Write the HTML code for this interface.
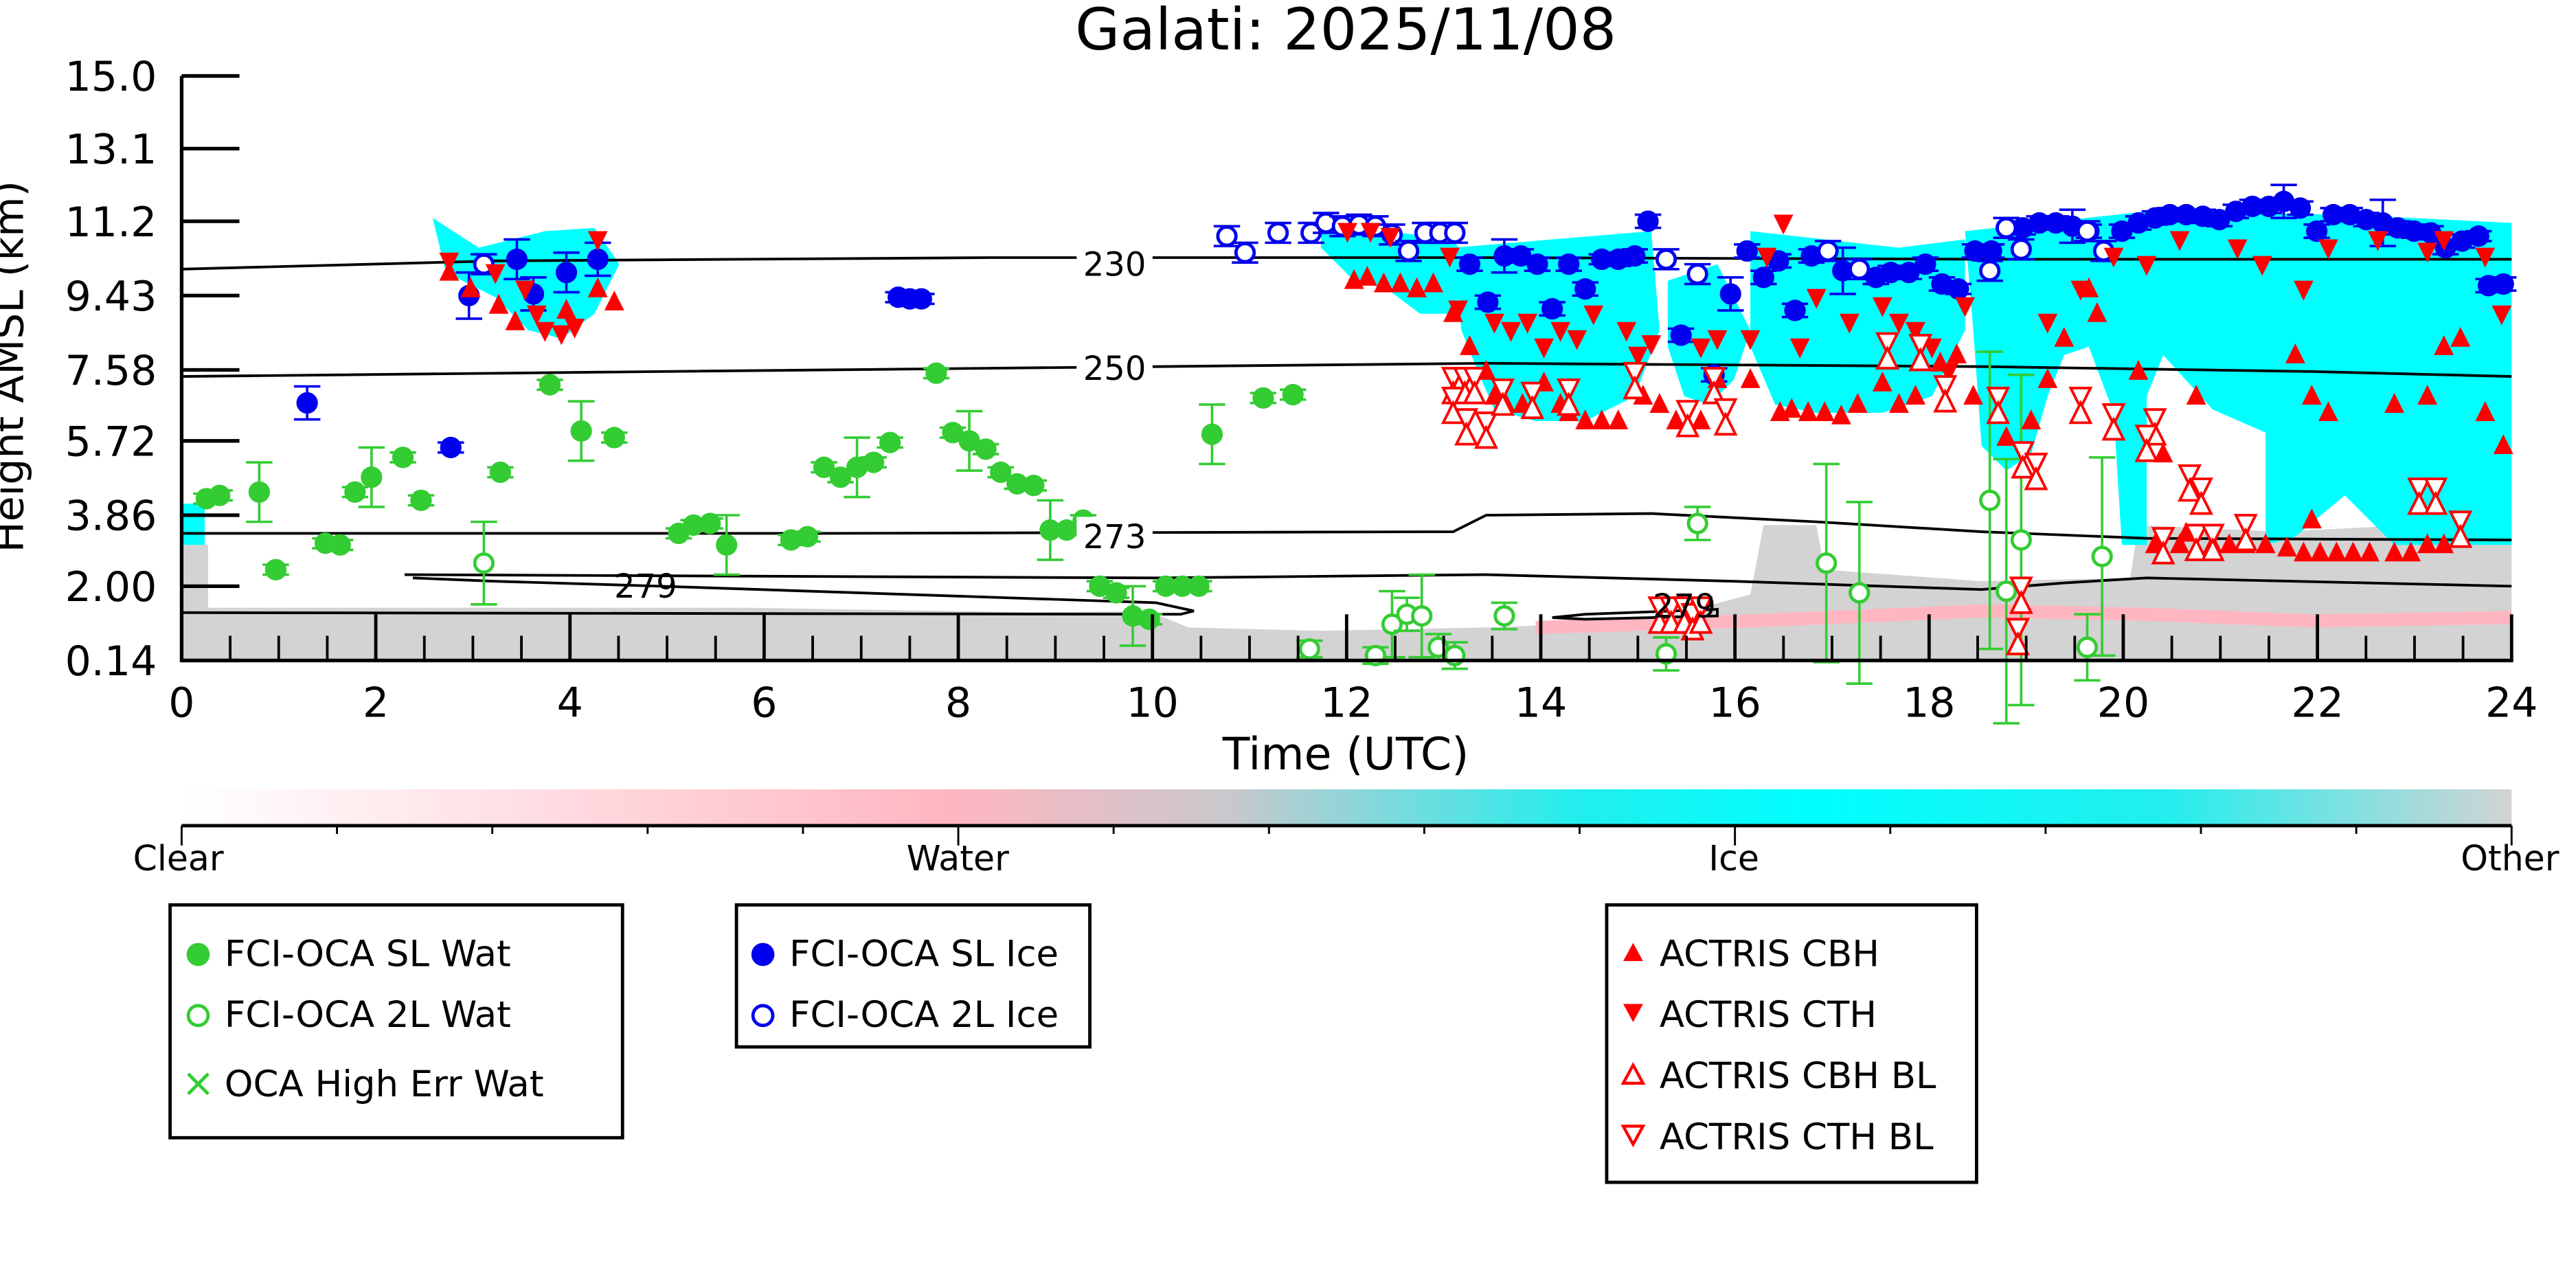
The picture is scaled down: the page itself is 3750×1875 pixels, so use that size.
<!DOCTYPE html>
<html><head><meta charset="utf-8"><style>
html,body{margin:0;padding:0;background:#fff;}
svg{display:block;font-family:"DejaVu Sans","Liberation Sans",sans-serif;}
</style></head><body>
<svg id="s" width="3750" height="1875" viewBox="0 0 1560 780" xmlns="http://www.w3.org/2000/svg">
<defs>
<linearGradient id="cb" x1="0" x2="1" y1="0" y2="0">
<stop offset="0" stop-color="#ffffff"/>
<stop offset="0.33" stop-color="#ffb6c1"/>
<stop offset="0.45" stop-color="#c8c8cc"/>
<stop offset="0.6" stop-color="#22eeee"/>
<stop offset="0.7" stop-color="#00ffff"/>
<stop offset="0.85" stop-color="#22eeee"/>
<stop offset="1" stop-color="#d3d3d3"/>
</linearGradient>
</defs>
<text x="815" y="30" font-size="35" text-anchor="middle">Galati: 2025/11/08</text>
<g id="bg">
<polygon fill="#d3d3d3" points="110,330 126,330 126,368 300,368 450,368 700,372 720,380 800,382 900,380 1000,376 1060,360 1068,318 1100,318 1105,345 1200,352 1290,350 1295,318 1380,322 1521,315 1521,400 110,400"/>
<polygon fill="#d3d3d3" points="250,375 700,370 700,385 250,386"/>
<polygon fill="#ffb6c1" points="930,376 1060,372 1200,366 1300,368 1400,372 1521,370 1521,378 1400,380 1300,376 1200,374 1060,380 930,384"/>
<polygon fill="#00ffff" points="262,132 290,150 330,140 360,138 375,160 360,190 340,205 320,200 300,180 270,165"/>
<polygon fill="#00ffff" points="110,305 124,305 124,330 110,330"/>
<polygon fill="#00ffff" points="800,135 880,145 890,160 880,190 860,190 840,175 820,170 800,150"/>
<polygon fill="#00ffff" points="880,150 1000,140 1005,200 990,240 960,255 930,255 905,248 895,225 885,200"/>
<polygon fill="#00ffff" points="1010,170 1040,160 1060,200 1050,230 1035,245 1020,240 1010,210"/>
<polygon fill="#00ffff" points="1060,140 1150,150 1190,145 1190,200 1170,240 1140,250 1100,250 1075,245 1060,210"/>
<polygon fill="#00ffff" points="1190,140 1300,128 1420,130 1521,135 1521,330 1450,330 1420,300 1390,325 1372,330 1372,262 1340,248 1310,215 1300,240 1300,330 1285,330 1280,250 1265,210 1250,215 1240,240 1230,275 1215,285 1200,270 1195,200"/>
</g>
<g id="ct" fill="none" stroke="#000" stroke-width="1.6"></g>
<g id="mk"></g>
<g font-size="20" fill="#000">
<rect x="652" y="148" width="46" height="22" fill="#fff"/><text x="675" y="167" text-anchor="middle">230</text>
<rect x="652" y="211" width="46" height="22" fill="#fff"/><text x="675" y="230" text-anchor="middle">250</text>
<rect x="652" y="313" width="46" height="22" fill="#fff"/><text x="675" y="332" text-anchor="middle">273</text>
<text x="391" y="362" text-anchor="middle">279</text>
<text x="1020" y="374" text-anchor="middle">279</text>
</g>
<g id="ax" stroke="#000" stroke-width="2.2"></g>
<g id="lb" font-size="25"></g>
<text transform="translate(14,222) rotate(-90)" font-size="25" text-anchor="middle">Height AMSL (km)</text>
<text x="815" y="466" font-size="27" text-anchor="middle">Time (UTC)</text>
<rect x="110" y="478" width="1411" height="22" fill="url(#cb)"/>
<line x1="110" y1="500" x2="1521" y2="500" stroke="#000" stroke-width="2"/>
<g id="cbt" stroke="#000" stroke-width="1.2"></g>
<g font-size="21">
<text x="108" y="527" text-anchor="middle">Clear</text>
<text x="580" y="527" text-anchor="middle">Water</text>
<text x="1050" y="527" text-anchor="middle">Ice</text>
<text x="1520" y="527" text-anchor="middle">Other</text>
</g>
<g fill="#fff" stroke="#000" stroke-width="2">
<rect x="103" y="548" width="274" height="141"/>
<rect x="446" y="548" width="214" height="86"/>
<rect x="973" y="548" width="224" height="168"/>
</g>
<g font-size="22">
<circle cx="120" cy="578" r="7" fill="#33cc33"/><text x="136" y="585">FCI-OCA SL Wat</text>
<circle cx="120" cy="615" r="6" fill="none" stroke="#33cc33" stroke-width="2"/><text x="136" y="622">FCI-OCA 2L Wat</text>
<text x="110" y="664" fill="#33cc33" font-size="24">×</text><text x="136" y="664">OCA High Err Wat</text>
<circle cx="462" cy="578" r="7" fill="#0000ee"/><text x="478" y="585">FCI-OCA SL Ice</text>
<circle cx="462" cy="615" r="6" fill="none" stroke="#0000ee" stroke-width="2"/><text x="478" y="622">FCI-OCA 2L Ice</text>
<polygon points="989,571 995,582 983,582" fill="red"/><text x="1005" y="585">ACTRIS CBH</text>
<polygon points="983,608 995,608 989,619" fill="red"/><text x="1005" y="622">ACTRIS CTH</text>
<polygon points="989,645 995,656 983,656" fill="none" stroke="red" stroke-width="1.8"/><text x="1005" y="659">ACTRIS CBH BL</text>
<polygon points="983,682 995,682 989,693" fill="none" stroke="red" stroke-width="1.8"/><text x="1005" y="696">ACTRIS CTH BL</text>
</g>
</svg>
<script>
var NS="http://www.w3.org/2000/svg";
function el(p,t,a){var e=document.createElementNS(NS,t);for(var k in a)e.setAttribute(k,a[k]);p.appendChild(e);return e;}
var ct=document.getElementById('ct');
['110,163 300,158 600,156 900,156 1200,157 1521,157',
 '110,228 400,225 700,222 900,220 1200,222 1400,225 1521,228',
 '110,323 500,323 880,322 900,312 1000,311 1100,316 1200,322 1300,326 1521,327',
 '245,348 700,350 900,348 1050,352 1200,357 1250,353 1300,350 1521,355',
 '250,350 300,352 400,355 700,365 723,370 715,372 110,371',
 '940,374 960,372 1040,369 1040,373 960,375 940,374'].forEach(function(p){el(ct,'polyline',{points:p});});
var mk=document.getElementById('mk');
function eb(x,y,d,c){el(mk,'line',{x1:x,y1:y-d,x2:x,y2:y+d,stroke:c,'stroke-width':1.5});el(mk,'line',{x1:x-8,y1:y-d,x2:x+8,y2:y-d,stroke:c,'stroke-width':1.5});el(mk,'line',{x1:x-8,y1:y+d,x2:x+8,y2:y+d,stroke:c,'stroke-width':1.5});}
var G='#33cc33',B='#0000ee';
var gf=[[125,302],[133,300],[157,298],[167,345],[197,329],[206,330],[215,298],[225,289],[244,277],[255,303],[303,286],[333,233],[352,261],[372,265],[411,323],[420,318],[430,317],[440,330],[479,327],[489,325],[499,283],[509,289],[519,283],[529,280],[539,268],[567,226],[577,262],[587,267],[597,272],[606,286],[616,293],[626,294],[636,321],[646,321],[656,315],[666,355],[676,359],[686,373],[696,375],[706,355],[716,355],[726,355],[734,263],[765,241],[783,239]];
gf.forEach(function(p,i){eb(p[0],p[1],(i%5==2)?18:3,G);el(mk,'circle',{cx:p[0],cy:p[1],r:6.5,fill:G});});
var go=[[293,341],[1028,317],[1106,341],[1126,359],[1205,303],[1215,358],[1224,327],[1273,337],[1264,392],[843,378],[852,372],[861,373],[871,392],[881,397],[911,373],[1009,396],[793,393],[833,397]];
go.forEach(function(p,i){eb(p[0],p[1],[25,10,60,55,90,80,100,60,20,20,10,25,8,8,8,10,5,5][i],G);el(mk,'circle',{cx:p[0],cy:p[1],r:5.5,fill:'#fff',stroke:G,'stroke-width':2});});
var bf=[[284,179],[313,157],[323,178],[343,165],[362,157],[186,244],[273,271],[544,180],[551,181],[558,181],[890,160],[901,183],[911,155],[921,155],[931,160],[940,187],[950,160],[960,175],[970,157],[980,157],[990,155],[998,134],[1018,203],[1038,227],[1048,178],[1058,152],[1068,168],[1077,158],[1087,188],[1097,155],[1116,164],[1136,168],[1145,165],[1156,165],[1166,160],[1176,172],[1186,175],[1196,152],[1206,152],[1225,138],[1235,135],[1245,135],[1255,137],[1265,140],[1285,140],[1295,135],[1305,132],[1314,130],[1324,130],[1334,131],[1344,133],[1354,128],[1364,125],[1374,125],[1383,122],[1393,126],[1403,140],[1413,130],[1423,130],[1433,133],[1443,135],[1452,138],[1462,140],[1472,141],[1481,150],[1491,146],[1501,143],[1507,173],[1516,172]];
bf.forEach(function(p,i){eb(p[0],p[1],(i<10||i%6==0)?[14,12,10,12,10,10,3,3,3,3][i%10]:4,B);el(mk,'circle',{cx:p[0],cy:p[1],r:6.5,fill:B});});
var bo=[[293,160],[743,143],[754,153],[774,141],[794,141],[803,135],[813,137],[823,136],[833,137],[843,142],[853,152],[863,141],[872,141],[881,141],[1009,157],[1028,166],[1107,152],[1126,163],[1205,164],[1215,138],[1224,151],[1264,140],[1274,152]];
bo.forEach(function(p){eb(p[0],p[1],6,B);el(mk,'circle',{cx:p[0],cy:p[1],r:5.5,fill:'#fff',stroke:B,'stroke-width':2});});
function tri(x,y,up,fill){var pts=up?(x+','+(y-7)+' '+(x+6)+','+(y+5)+' '+(x-6)+','+(y+5)):((x-6)+','+(y-5)+' '+(x+6)+','+(y-5)+' '+x+','+(y+7));el(mk,'polygon',fill?{points:pts,fill:'red'}:{points:pts,fill:'#fff',stroke:'red','stroke-width':1.6});}
var tu=[[272,165],[285,175],[302,185],[312,195],[343,188],[362,175],[372,183],[820,170],[828,168],[838,172],[848,172],[858,175],[868,172],[880,190],[890,210],[900,225],[905,240],[912,245],[922,245],[935,232],[945,245],[950,250],[960,255],[970,255],[980,255],[995,240],[1005,245],[1015,255],[1030,255],[1040,230],[1060,230],[1078,250],[1085,248],[1095,250],[1105,250],[1115,252],[1125,245],[1140,232],[1150,245],[1160,240],[1175,220],[1185,215],[1195,240],[1215,265],[1230,255],[1240,230],[1250,205],[1265,175],[1270,190],[1295,225],[1310,275],[1330,240],[1390,215],[1400,240],[1410,250],[1450,245],[1470,240],[1480,210],[1490,205],[1505,250],[1516,270],[1305,330],[1320,330],[1340,330],[1350,330],[1360,330],[1372,330],[1385,332],[1395,335],[1405,335],[1415,335],[1425,335],[1435,335],[1450,335],[1460,335],[1470,330],[1480,330],[1400,315],[1324,323]];
tu.forEach(function(p){tri(p[0],p[1],true,true);});
var td=[[272,158],[300,165],[318,175],[325,190],[330,200],[340,202],[348,198],[362,145],[816,140],[830,140],[842,143],[878,155],[883,187],[905,195],[915,200],[925,195],[935,210],[945,200],[955,205],[965,190],[985,200],[992,215],[1000,208],[1030,210],[1040,205],[1060,205],[1070,155],[1080,135],[1090,210],[1100,180],[1120,195],[1140,185],[1150,195],[1160,200],[1170,210],[1180,225],[1190,185],[1240,195],[1260,175],[1280,155],[1300,160],[1320,145],[1355,150],[1370,160],[1395,175],[1410,150],[1440,145],[1470,152],[1480,145],[1505,155],[1515,190]];
td.forEach(function(p){tri(p[0],p[1],false,true);});
var bl=[[880,233],[887,233],[893,233],[880,245],[888,258],[900,260],[910,240],[928,242],[950,240],[990,230],[1022,253],[1038,233],[1045,252],[1143,212],[1163,213],[1178,238],[1210,245],[1225,278],[1233,285],[1260,245],[1280,255],[1305,258],[1326,292],[1333,300],[1310,330],[1330,328],[1340,328],[1360,322],[1465,300],[1475,300],[1490,320],[1300,268],[1005,372],[1012,372],[1020,372],[1025,376],[1030,372],[1222,385],[1224,360]];
bl.forEach(function(p,i){tri(p[0],p[1]-5,false,false);tri(p[0],p[1]+6,true,false);});
var ax=document.getElementById('ax');
el(ax,'line',{x1:110,y1:46,x2:110,y2:401});el(ax,'line',{x1:109,y1:400,x2:1522,y2:400});
var lb=document.getElementById('lb');
var yl=[['15.0',46],['13.1',90],['11.2',134],['9.43',179],['7.58',224],['5.72',267],['3.86',312],['2.00',355],['0.14',400]];
yl.forEach(function(a){el(ax,'line',{x1:110,y1:a[1],x2:145,y2:a[1]});var t=el(lb,'text',{x:95,y:a[1]+9,'text-anchor':'end'});t.textContent=a[0];});
for(var h=0;h<=48;h++){var x=110+h*1411/48;var L=(h%4==0)?28:15;el(ax,'line',{x1:x,y1:400,x2:x,y2:400-L,'stroke-width':h%4==0?2:1.6});if(h%4==0){var t=el(lb,'text',{x:x,y:434,'text-anchor':'middle'});t.textContent=(h/2);}}
var cbt=document.getElementById('cbt');
for(var i=0;i<=15;i++){var x=110+i*1411/15;el(cbt,'line',{x1:x,y1:500,x2:x,y2:(i%5==0)?512:505});}
</script>
</body></html>
